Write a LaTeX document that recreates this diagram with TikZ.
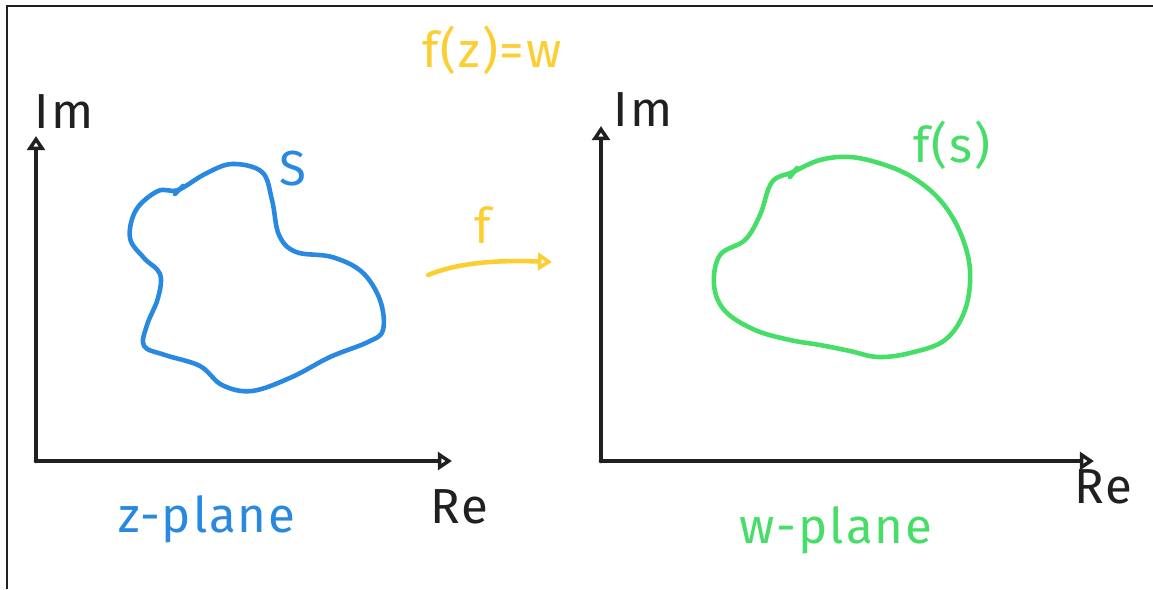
\documentclass[tikz,border=0pt]{standalone}
\usepackage{fontspec}
\setmainfont{Fira Sans}
\usepackage{tikz}
\usetikzlibrary{arrows.meta, positioning}

\definecolor{penblue}{RGB}{41,137,224}
\definecolor{pengreen}{RGB}{70,222,104}
\definecolor{penyellow}{RGB}{252,206,50}
\definecolor{penblack}{RGB}{32,32,34}

\begin{document}
\begin{tikzpicture}[x=0.02cm, y=-0.02cm, >=Stealth,
		axis/.style={draw=penblack, line width=2.6pt, line cap=round, -{Triangle[open, length=8pt, width=10pt, line width=2.2pt]}},
		ink/.style={line width=2.6pt, line cap=round, line join=round},
		lbl/.style={font=\fontsize{28}{32}\selectfont\addfontfeatures{LetterSpace=4}, inner sep=0pt}]
				\useasboundingbox (0,0) rectangle (1153,589);
				\draw[penblack, line width=0.8pt] (7,589) -- (7,6) -- (1153,6);
				
				% z-plane
				\coordinate (o1) at (36,461);
				\coordinate (im1) at (36,136);
				\coordinate (re1) at (452,461);
				\draw[axis] (o1) -- (im1);
				\draw[axis] (o1) -- (re1);
				\node[lbl, penblack] (imlbl1) at (64,112) {Im};
				\node[lbl, penblack] (relbl1) at (459,507) {Re};
				
				\draw[ink, penblue] plot[smooth cycle, tension=0.6] coordinates {
					(178,190) (205,174) (232,164) (262,172) (272,200) (279,235) (296,252)
					(332,257) (362,272) (380,300) (383,330) (368,342) (330,357) (292,377)
					(252,391) (222,385) (200,366) (165,355) (144,346) (147,325) (158,298)
					(160,274) (144,258) (130,238) (136,210) (158,191)};
				\draw[ink, penblue] (175,194) -- (183,186);
				\node[lbl, penblue] (slbl) at (293,169) {S};
				\node[lbl, penblue] (zplane) at (207,519) {z-plane};
				
				% mapping
				\node[lbl, penyellow] (fzw) at (492,50) {f(z)=w};
				\node[lbl, penyellow] (flbl) at (483,225) {f};
				\coordinate (fa) at (428,275);
				\coordinate (fb) at (552,262);
				\draw[ink, penyellow, -{Triangle[open, length=8pt, width=10pt, line width=2.2pt]}] (fa) .. controls (460,262) and (500,260) .. (fb);
				
				% w-plane
				\coordinate (o2) at (601,461);
				\coordinate (im2) at (601,126);
				\coordinate (re2) at (1094,461);
				\draw[axis] (o2) -- (im2);
				\draw[axis] (o2) -- (re2);
				\node[lbl, penblack] (imlbl2) at (643,110) {Im};
				\node[lbl, penblack] (relbl2) at (1103,487) {Re};
				
				\draw[ink, pengreen] plot[smooth cycle, tension=0.6] coordinates {
					(793,172) (820,160) (850,157) (882,164) (912,177) (940,200) (960,232)
					(970,270) (965,310) (945,340) (910,353) (878,357) (850,351) (820,345)
					(790,340) (755,330) (725,311) (714,285) (720,255) (745,240) (760,215)
					(772,182)};
				\draw[ink, pengreen] (790,177) -- (797,168);
				\node[lbl, pengreen] (fslbl) at (952,145) {f(s)};
				\node[lbl, pengreen] (wplane) at (836,530) {w-plane};
			\end{tikzpicture}
\end{document}
